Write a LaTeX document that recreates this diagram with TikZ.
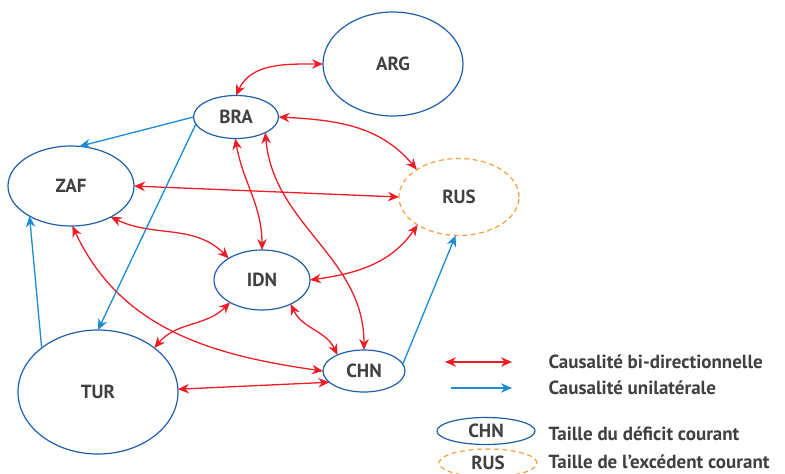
\documentclass[tikz,border=0pt]{standalone}
\usepackage{fontspec}
\setmainfont{PT Sans}
\usepackage{xcolor}
\usetikzlibrary{positioning, arrows.meta, shapes.geometric}

\definecolor{ellblue}{RGB}{30,95,170}
\definecolor{arrblue}{RGB}{25,140,210}
\definecolor{causred}{RGB}{235,30,40}
\definecolor{surplusorange}{RGB}{245,160,60}
\definecolor{labelgray}{RGB}{64,64,64}

\begin{document}
\begin{tikzpicture}[
    x=1pt, y=-1pt,
    deficit/.style={ellipse, draw=ellblue, line width=1.2pt, inner sep=0pt, outer sep=0pt, font=\bfseries\fontsize{19}{22}\selectfont, text=labelgray},
    surplus/.style={deficit, draw=surplusorange, dash pattern=on 5pt off 3.5pt},
    bidir/.style={{Stealth[length=11pt,width=9.5pt,inset=3.5pt]}-{Stealth[length=11pt,width=9.5pt,inset=3.5pt]}, draw=causred, line width=1.3pt},
    unidir/.style={-{Stealth[length=11pt,width=9.5pt,inset=3.5pt]}, draw=arrblue, line width=1.3pt},
    legtext/.style={font=\bfseries\fontsize{19}{22}\selectfont, text=labelgray}
]
    \useasboundingbox (0,0) rectangle (785,474);

    \node[deficit, minimum width=140pt, minimum height=104pt] (arg) at (393,64) {ARG};
    \node[deficit, minimum width=85pt, minimum height=43pt] (bra) at (236,117) {BRA};
    \node[deficit, minimum width=126pt, minimum height=80pt] (zaf) at (71,186) {ZAF};
    \node[surplus, minimum width=120pt, minimum height=77pt] (rus) at (459,197) {RUS};
    \node[deficit, minimum width=96pt, minimum height=60pt] (idn) at (262,280) {IDN};
    \node[deficit, minimum width=160pt, minimum height=124pt] (tur) at (98,392) {TUR};
    \node[deficit, minimum width=82pt, minimum height=42pt] (chn) at (364,371) {CHN};

    % bi-directional links
    \draw[bidir] (bra.north) to[out=65,in=180] (arg.west);
    \draw[bidir] (bra.east) to[out=-3,in=130] (rus.147);
    \draw[bidir] (zaf.east) -- (rus.west);
    \draw[bidir] (bra.268) to[out=-80,in=90] (idn.north);
    \draw[bidir] (bra.-28) to[out=-85,in=90] (chn.north);
    \draw[bidir] (zaf.-38) to[out=-25,in=135] (idn.147);
    \draw[bidir] (zaf.-88) to[out=-65,in=172] (chn.west);
    \draw[bidir] (idn.east) to[out=8,in=235] (rus.214);
    \draw[bidir] (idn.215) to[out=225,in=50] (tur.38);
    \draw[bidir] (idn.-40) to[out=-65,in=115] (chn.149);
    \draw[bidir] (tur.2) -- (chn.198);

    % one-way links
    \draw[unidir] (bra.west) -- (zaf.78);
    \draw[unidir] (bra.190) -- (tur.north);
    \draw[unidir] (tur.142) -- (zaf.216);
    \draw[unidir] (chn.10) -- (rus.265);

    % Legend
    \coordinate (bistart) at (445,362);
    \coordinate (biend) at (512,362);
    \coordinate (unistart) at (451,388);
    \coordinate (uniend) at (512,388);
    \draw[bidir] (bistart) -- (biend);
    \draw[unidir] (unistart) -- (uniend);
    \node[legtext, right=33pt of biend] (bitext) {Causalité bi-directionnelle};
    \node[legtext, right=33pt of uniend] (unitext) {Causalité unilatérale};

    \node[deficit, minimum width=98pt, minimum height=27pt] (legchn) at (486,431) {CHN};
    \node[surplus, minimum width=98pt, minimum height=28pt] (legrus) at (488,463) {RUS};
    \node[legtext, right=10pt of legchn, yshift=-3pt] (deftext) {Taille du déficit courant};
    \node[legtext, right=8pt of legrus, yshift=1pt] (surtext) {Taille de l’excédent courant};

\end{tikzpicture}
\end{document}
